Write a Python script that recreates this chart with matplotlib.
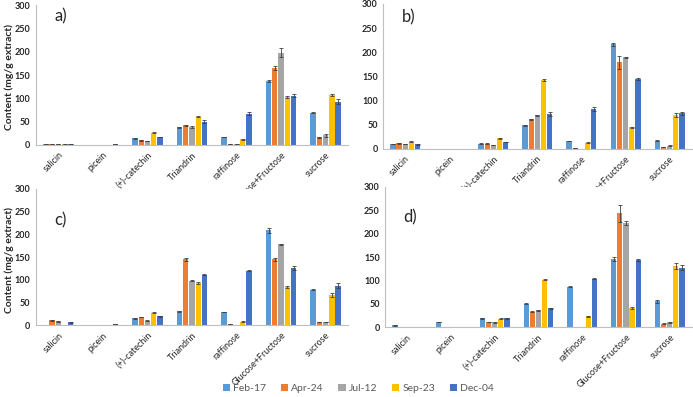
import matplotlib.pyplot as plt
import numpy as np

plt.rcParams['font.family'] = ['Lato', 'DejaVu Sans']

# categories and sampling dates
compounds = ["salicin", "picein", "(+)-catechin", "Triandrin", "raffinose",
             "Glucose+Fructose", "sucrose"]
dates = ["Feb-17", "Apr-24", "Jul-12", "Sep-23", "Dec-04"]
colors = ["#5B9BD5", "#ED7D31", "#A5A5A5", "#FFC000", "#4472C4"]

# values per panel: rows = dates, columns = compounds
vals_a = [[1, 0, 14, 38, 17, 138, 69],
          [1, 0, 10, 42, 2, 165, 16],
          [1, 0, 8, 38, 1, 198, 21],
          [1, 0, 26, 60, 12, 103, 108],
          [1, 1, 17, 50, 67, 106, 93]]
err_a = [[0, 0, 1, 1, 1, 2, 1],
         [0, 0, 1, 1, 0, 4, 1],
         [0, 0, 0, 2, 0, 9, 3],
         [0, 0, 1, 1, 1, 2, 2],
         [0, 0, 1, 3, 3, 3, 5]]

vals_b = [[10, 0, 11, 49, 17, 217, 17],
          [12, 0, 11, 61, 1, 179, 4],
          [11, 0, 7, 70, 0, 190, 6],
          [15, 0, 22, 143, 13, 45, 70],
          [10, 0, 15, 73, 83, 145, 74]]
err_b = [[0, 0, 1, 1, 0, 3, 1],
         [1, 0, 1, 1, 0, 14, 0],
         [0, 0, 0, 1, 0, 1, 1],
         [1, 0, 1, 2, 1, 1, 4],
         [1, 0, 0, 4, 4, 2, 3]]

vals_c = [[1, 1, 15, 31, 29, 209, 78],
          [11, 0, 18, 145, 2, 145, 7],
          [9, 0, 10, 98, 1, 178, 7],
          [1, 0, 27, 93, 8, 84, 67],
          [6, 2, 20, 111, 120, 126, 87]]
err_c = [[0, 0, 1, 1, 1, 5, 1],
         [1, 0, 1, 3, 0, 4, 1],
         [1, 0, 1, 1, 0, 1, 1],
         [0, 0, 1, 3, 1, 2, 4],
         [1, 0, 1, 1, 1, 5, 5]]

vals_d = [[4, 12, 19, 50, 86, 146, 55],
          [1, 1, 11, 33, 1, 244, 7],
          [1, 1, 10, 36, 0, 223, 10],
          [1, 0, 18, 101, 23, 41, 131],
          [1, 1, 19, 40, 104, 143, 127]]
err_d = [[1, 0, 1, 1, 1, 5, 4],
         [0, 0, 1, 1, 0, 18, 1],
         [0, 0, 1, 1, 0, 4, 1],
         [0, 0, 1, 1, 1, 2, 7],
         [0, 0, 1, 2, 1, 2, 5]]

panels = [("a)", vals_a, err_a), ("b)", vals_b, err_b),
          ("c)", vals_c, err_c), ("d)", vals_d, err_d)]

# axes rectangles in figure fraction
rects = [[0.052, 0.635, 0.450, 0.352],
         [0.553, 0.625, 0.445, 0.365],
         [0.052, 0.181, 0.450, 0.343],
         [0.556, 0.176, 0.442, 0.353]]
label_pos = [(0.06, 0.88), (0.06, 0.87), (0.06, 0.73), (0.06, 0.75)]

fig = plt.figure(figsize=(6.93, 3.97), dpi=100)
x = np.arange(len(compounds))
w = 0.12
step = 0.14

for k, (lab, vals, errs) in enumerate(panels):
    ax = fig.add_axes(rects[k])
    for j in range(len(dates)):
        ax.bar(x + (j - 2) * step, vals[j], w, color=colors[j],
               yerr=errs[j], ecolor="#404040",
               error_kw=dict(elinewidth=0.6, capsize=1.5, capthick=0.6),
               label=dates[j])
    ax.set_xlim(-0.5, len(compounds) - 0.5)
    ax.set_ylim(0, 300)
    ax.set_yticks(np.arange(0, 301, 50))
    ax.set_xticks(x)
    ax.set_xticklabels(compounds, rotation=45, ha="right",
                       rotation_mode="anchor", fontsize=6.5, color="#262626")
    for t in ax.get_yticklabels():
        t.set_fontsize(6.5)
        t.set_fontweight("bold")
        t.set_color("#262626")
    ax.tick_params(axis="both", length=0, pad=4)
    for s in ["top", "right"]:
        ax.spines[s].set_visible(False)
    ax.spines["left"].set_color("#BFBFBF")
    ax.spines["bottom"].set_color("#BFBFBF")
    ax.text(label_pos[k][0], label_pos[k][1], lab, transform=ax.transAxes,
            fontsize=12, color="#262626")
    if k == 0:
        handles, labels = ax.get_legend_handles_labels()

# y axis titles for the left panels
fig.text(0.014, 0.805, "Content (mg/g extract)", rotation=90, ha="center",
         va="center", fontsize=7.5, fontweight="bold", color="#262626")
fig.text(0.014, 0.345, "Content (mg/g extract)", rotation=90, ha="center",
         va="center", fontsize=7.5, fontweight="bold", color="#262626")

fig.legend(handles, labels, loc="center", bbox_to_anchor=(0.517, 0.022),
           ncol=5, frameon=False, fontsize=7.5, labelcolor="#595959",
           handlelength=0.7, handleheight=0.7, handletextpad=0.3,
           columnspacing=1.4)

fig.savefig("out.png", dpi=100)
